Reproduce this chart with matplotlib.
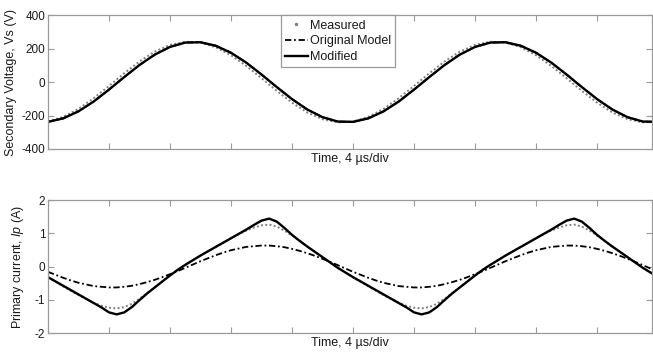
#!/usr/bin/env python3

import numpy as np
import matplotlib
matplotlib.use("Agg")
import matplotlib.pyplot as plt
from matplotlib.lines import Line2D


# Top panel: secondary voltage (V), sampled every 1 us
t_vs = np.arange(0, 41, 1.0)
vs_measured = [
    -236, -208, -160, -96, -23, 53, 123, 182, 222, 241,
    236, 208, 160, 96, 23, -53, -123, -182, -222, -241,
    -236, -208, -160, -96, -23, 53, 123, 182, 222, 241,
    236, 208, 160, 96, 23, -53, -123, -182, -222, -241,
    -236,
]
vs_original = [
    -238, -217, -175, -116, -45, 30, 102, 164, 210, 236,
    238, 217, 175, 116, 45, -30, -102, -164, -210, -236,
    -238, -217, -175, -116, -45, 30, 102, 164, 210, 236,
    238, 217, 175, 116, 45, -30, -102, -164, -210, -236,
    -238,
]
vs_modified = [
    -238, -217, -175, -116, -45, 30, 102, 164, 210, 236,
    238, 217, 175, 116, 45, -30, -102, -164, -210, -236,
    -238, -217, -175, -116, -45, 30, 102, 164, 210, 236,
    238, 217, 175, 116, 45, -30, -102, -164, -210, -236,
    -238,
]

# Bottom panel: primary current (A), sampled every 0.5 us
t_ip = np.arange(0, 40.5, 0.5)
ip_measured = [
    -0.33, -0.46, -0.60, -0.73, -0.86, -0.98, -1.09, -1.18, -1.24, -1.26,
    -1.22, -1.12, -0.97, -0.80, -0.62, -0.44, -0.27, -0.10, 0.05, 0.19,
    0.33, 0.46, 0.59, 0.72, 0.85, 0.97, 1.08, 1.17, 1.24, 1.26,
    1.20, 1.08, 0.93, 0.77, 0.60, 0.44, 0.28, 0.12, -0.04, -0.18,
    -0.33, -0.46, -0.60, -0.73, -0.86, -0.98, -1.09, -1.18, -1.24, -1.26,
    -1.22, -1.12, -0.97, -0.80, -0.62, -0.44, -0.27, -0.10, 0.05, 0.19,
    0.33, 0.46, 0.59, 0.72, 0.85, 0.97, 1.08, 1.17, 1.24, 1.26,
    1.20, 1.08, 0.93, 0.77, 0.60, 0.44, 0.28, 0.12, -0.04, -0.18,
    -0.33,
]
ip_original = [
    -0.16, -0.25, -0.34, -0.42, -0.49, -0.54, -0.59, -0.61, -0.63, -0.63,
    -0.61, -0.58, -0.53, -0.47, -0.40, -0.32, -0.23, -0.14, -0.04, 0.06,
    0.16, 0.25, 0.34, 0.42, 0.49, 0.54, 0.59, 0.61, 0.63, 0.63,
    0.61, 0.58, 0.53, 0.47, 0.40, 0.32, 0.23, 0.14, 0.04, -0.06,
    -0.16, -0.25, -0.34, -0.42, -0.49, -0.54, -0.59, -0.61, -0.63, -0.63,
    -0.61, -0.58, -0.53, -0.47, -0.40, -0.32, -0.23, -0.14, -0.04, 0.06,
    0.16, 0.25, 0.34, 0.42, 0.49, 0.54, 0.59, 0.61, 0.63, 0.63,
    0.61, 0.58, 0.53, 0.47, 0.40, 0.32, 0.23, 0.14, 0.04, -0.06,
    -0.16,
]
ip_modified = [
    -0.32, -0.45, -0.58, -0.71, -0.84, -0.97, -1.10, -1.23, -1.38, -1.44,
    -1.38, -1.22, -1.01, -0.81, -0.63, -0.45, -0.27, -0.10, 0.05, 0.19,
    0.33, 0.46, 0.59, 0.72, 0.85, 0.98, 1.11, 1.25, 1.38, 1.44,
    1.35, 1.16, 0.95, 0.77, 0.60, 0.44, 0.28, 0.12, -0.04, -0.18,
    -0.32, -0.45, -0.58, -0.71, -0.84, -0.97, -1.10, -1.23, -1.38, -1.44,
    -1.38, -1.22, -1.01, -0.81, -0.63, -0.45, -0.27, -0.10, 0.05, 0.19,
    0.33, 0.46, 0.59, 0.72, 0.85, 0.98, 1.11, 1.25, 1.38, 1.44,
    1.35, 1.16, 0.95, 0.77, 0.60, 0.44, 0.28, 0.12, -0.04, -0.18,
    -0.32,
]

x_ticks = [0, 4, 8, 12, 16, 20, 24, 28, 32, 36]
vs_ticks = [-400, -200, 0, 200, 400]
ip_ticks = [-2, -1, 0, 1, 2]

TEXT_COLOR = "#1a1a1a"
SPINE_COLOR = "#9a9a9a"
DOT_COLOR = "#808080"
DOT_STYLE = (0, (1, 1.2))
DASHDOT_STYLE = (0, (3.5, 1.5, 1, 1.5))


def style_axes(ax, yticks, ylim):
    ax.set_xlim(0, 39.6)
    ax.set_ylim(*ylim)
    ax.set_xticks(x_ticks)
    ax.set_xticklabels([])
    ax.set_yticks(yticks)
    ax.tick_params(direction="in", top=True, right=True, length=4,
                   color=SPINE_COLOR, labelsize=8.5, labelcolor=TEXT_COLOR, pad=2)
    for spine in ax.spines.values():
        spine.set_color(SPINE_COLOR)
        spine.set_linewidth(0.9)
    ax.set_xlabel("Time, 4 µs/div", fontsize=9, color=TEXT_COLOR, labelpad=1)


def main():
    plt.rcParams["font.family"] = ["Liberation Sans", "DejaVu Sans"]
    plt.rcParams["axes.unicode_minus"] = False
    plt.rcParams["mathtext.fontset"] = "custom"
    plt.rcParams["mathtext.rm"] = "Liberation Sans"
    plt.rcParams["mathtext.it"] = "Liberation Sans:italic"

    fig = plt.figure(figsize=(6.53, 3.56), dpi=100)
    ax1 = fig.add_axes([0.0735, 0.5815, 0.925, 0.376])
    ax2 = fig.add_axes([0.0735, 0.0646, 0.925, 0.3736])

    # Secondary voltage
    ax1.plot(t_vs, vs_measured, color=DOT_COLOR, linestyle=DOT_STYLE, linewidth=1.4)
    ax1.plot(t_vs, vs_original, color="black", linestyle=DASHDOT_STYLE, linewidth=1.3)
    ax1.plot(t_vs, vs_modified, color="black", linestyle="-", linewidth=1.7)
    style_axes(ax1, vs_ticks, (-400, 400))
    ax1.set_ylabel("Secondary Voltage, Vs (V)", fontsize=9, color=TEXT_COLOR, labelpad=3)

    handles = [
        Line2D([], [], color=DOT_COLOR, marker=".", markersize=3, linestyle="none"),
        Line2D([], [], color="black", linestyle=DASHDOT_STYLE, linewidth=1.3),
        Line2D([], [], color="black", linestyle="-", linewidth=1.7),
    ]
    leg = ax1.legend(handles, ["Measured", "Original Model", "Modified"],
                     loc="upper center", bbox_to_anchor=(0.48, 1.0),
                     borderaxespad=0, fontsize=9, handlelength=1.8,
                     handletextpad=0.15, labelspacing=0.3, borderpad=0.35,
                     fancybox=False, framealpha=1)
    leg.get_frame().set_edgecolor(SPINE_COLOR)
    leg.get_frame().set_linewidth(0.9)
    for txt in leg.get_texts():
        txt.set_color(TEXT_COLOR)

    # Primary current
    ax2.plot(t_ip, ip_measured, color=DOT_COLOR, linestyle=DOT_STYLE, linewidth=1.4)
    ax2.plot(t_ip, ip_original, color="black", linestyle=DASHDOT_STYLE, linewidth=1.3)
    ax2.plot(t_ip, ip_modified, color="black", linestyle="-", linewidth=1.7)
    style_axes(ax2, ip_ticks, (-2, 2))
    ax2.set_ylabel("Primary current, $\\mathit{Ip}$ (A)", fontsize=9,
                   color=TEXT_COLOR, labelpad=6)

    fig.savefig("out.png", dpi=100)
    plt.close(fig)


if __name__ == "__main__":
    main()
